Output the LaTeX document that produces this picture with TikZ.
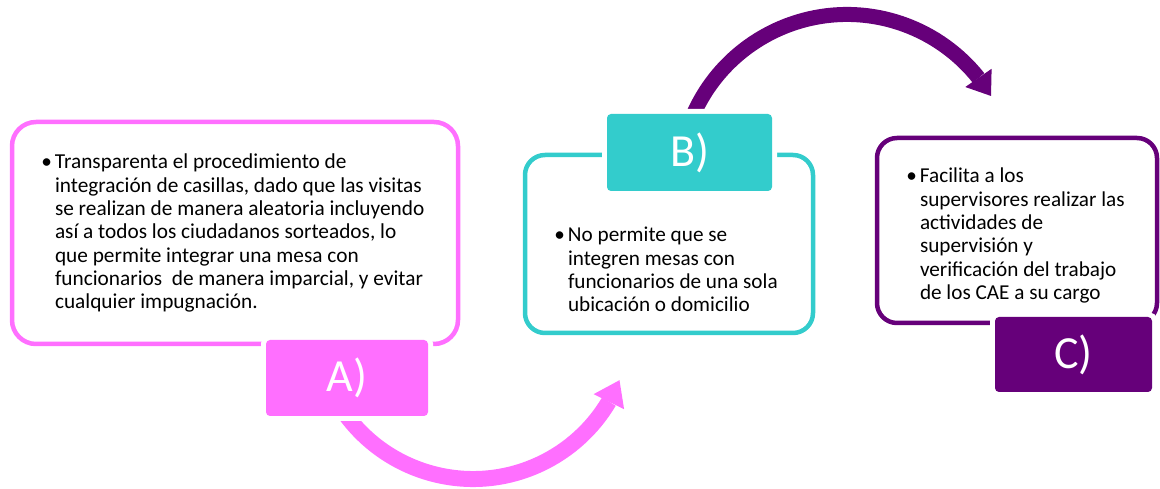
\documentclass[tikz,border=0pt]{standalone}
\usepackage{fontspec}
\setmainfont{Carlito}
\usetikzlibrary{arrows.meta,bending}
\definecolor{pinkc}{RGB}{255,111,255}
\definecolor{tealc}{RGB}{51,204,204}
\definecolor{purpc}{RGB}{102,0,122}
\newcommand{\bodytext}[3]{\parbox[t]{#1pt}{\raggedright\fontsize{#2}{23.3}\selectfont\leavevmode\llap{\textbullet\hspace{3pt}}#3}}
\begin{document}
\begin{tikzpicture}[x=1pt,y=1pt,
  frame/.style={draw, line width=4.5pt, rounded corners=24pt, inner sep=0pt, outer sep=0pt},
  tag/.style={rounded corners=4pt, inner sep=0pt, outer sep=0pt, text=white,
    font=\fontsize{46}{50}\selectfont, preaction={draw=white, line width=10pt}},
  body/.style={anchor=base west, inner sep=0pt, outer sep=0pt},
  curvearrow/.style={line width=#1}
]
\useasboundingbox (0,0) rectangle (1160,489);
% frames
\node[frame, draw=pinkc, minimum width=446pt, minimum height=222pt] (ba) at (235,256) {};
\node[frame, draw=tealc, rounded corners=20pt, minimum width=288pt, minimum height=178pt] (bb) at (669,245) {};
\node[frame, draw=purpc, rounded corners=20pt, minimum width=280pt, minimum height=185pt] (bc) at (1017,258.5) {};
% texts
\node[body] (ta) at (55,320) {\bodytext{420}{21.3}{Transparenta el procedimiento de\\
integración de casillas, dado que las visitas\\
se realizan de manera aleatoria incluyendo\\
así a todos los ciudadanos sorteados, lo\\
que permite integrar una mesa con\\
funcionarios~ de manera imparcial, y evitar\\
cualquier impugnación.}};
\node[body] (tb) at (568,247) {\bodytext{240}{21.2}{No permite que se\\
integren mesas con\\
funcionarios de una sola\\
ubicación o domicilio}};
\node[body] (tc) at (920,306) {\bodytext{230}{21.2}{Facilita a los\\
supervisores realizar las\\
actividades de\\
supervisión y\\
verificación del trabajo\\
de los CAE a su cargo}};
% arrows
\coordinate (pc) at (473,168);
\coordinate (qc) at (847,306.5);
\draw[curvearrow=16pt, pinkc, -{Triangle[width=34pt,length=24pt,line width=0pt,flex]}]
  (pc) ++(205:158) arc[start angle=205, end angle=338, radius=158];
\draw[curvearrow=15pt, purpc, -{Triangle[width=32pt,length=22pt,line width=0pt,flex]}]
  (qc) ++(160:168) arc[start angle=160, end angle=31, radius=168];
% tags
\node[tag, fill=pinkc, minimum width=162pt, minimum height=76pt] (la) at (347,111) {A)};
\node[tag, fill=tealc, minimum width=165pt, minimum height=77pt] (lb) at (689.5,336.5) {B)};
\node[tag, fill=purpc, minimum width=157pt, minimum height=75pt] (lc) at (1073.5,134.5) {C)};
\end{tikzpicture}
\end{document}
